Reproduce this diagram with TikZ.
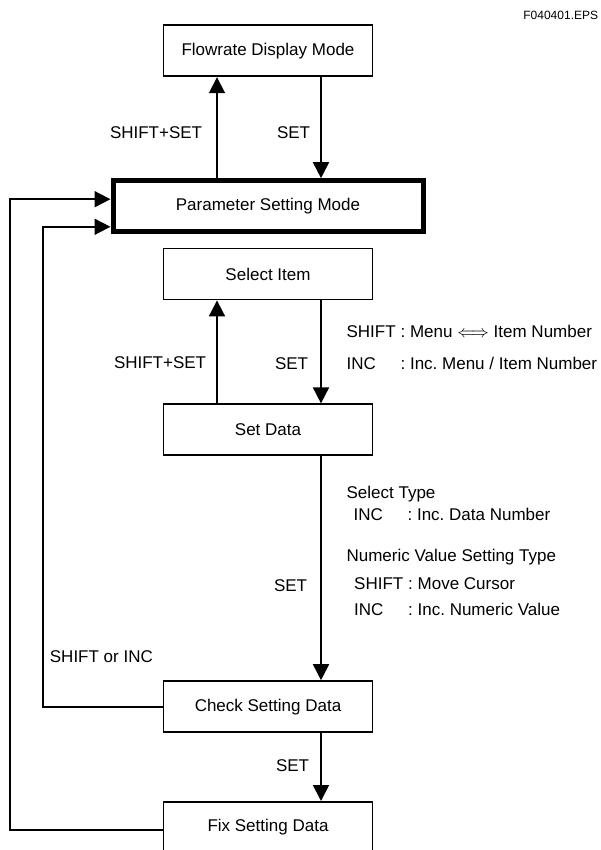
\documentclass[tikz,border=0pt]{standalone}
\usepackage{fontspec}
\setmainfont{Liberation Sans}
\usepackage{tikz}
\usetikzlibrary{arrows.meta, positioning}
\newcommand{\keyname}[1]{\makebox[54pt][l]{#1}}
\frenchspacing

\begin{document}
\begin{tikzpicture}[
                x=1pt, y=-1pt,
                line width=1.8pt,
                font=\fontsize{17}{20}\selectfont,
                modebox/.style={rectangle, draw, line width=1.8pt, minimum width=209pt, minimum height=51pt},
                lbl/.style={inner sep=0pt, text height=12.2pt, text depth=0pt},
                >={Triangle[length=16pt, width=16pt]}
            ]
            \useasboundingbox (0,0) rectangle (601,850);
            \node[lbl, font=\fontsize{12}{14}\selectfont, text height=8.6pt, anchor=east] (eps) at (599,15) {F040401.EPS};
            % mode boxes
            \node[modebox] (flow) at (268,50.8) {Flowrate Display Mode};
            \node[modebox, line width=5pt, minimum width=310pt, below=101pt of flow] (param) {Parameter Setting Mode};
            \node[modebox, below=13.4pt of param] (select) {Select Item};
            \node[modebox, below=103pt of select] (setdata) {Set Data};
            \node[modebox, below=224pt of setdata] (check) {Check Setting Data};
            \node[modebox, below=68pt of check] (fix) {Fix Setting Data};
            % transitions
            \draw[->] ([xshift=-51pt]param.north) -- node[lbl, left=14pt, pos=.45] (lshiftset) {SHIFT+SET} ([xshift=-51pt]flow.south);
            \draw[->] ([xshift=53pt]flow.south) -- node[lbl, left=10pt, pos=.55] (lsetparam) {SET} ([xshift=53pt]param.north);
            \draw[->] ([xshift=-51pt]setdata.north) -- node[lbl, left=10pt, pos=.40] (lshiftsel) {SHIFT+SET} ([xshift=-51pt]select.south);
            \draw[->] ([xshift=53pt]select.south) -- node[lbl, left=12pt, pos=.61] (lsetdata) {SET} ([xshift=53pt]setdata.north);
            \draw[->] ([xshift=53pt]setdata.south) -- node[lbl, left=13pt, pos=.576] (lsetcheck) {SET} ([xshift=53pt]check.north);
            \draw[->] ([xshift=53pt]check.south) -- node[lbl, left=11pt, pos=.48] (lsetfix) {SET} ([xshift=53pt]fix.north);
            % return paths
            \draw[->] ([yshift=-2.5pt]fix.west) -- ++(-153,0) |- ([yshift=7pt]param.west);
            \draw[->] (check.west) -- ++(-119.5,0) |- ([yshift=-20.6pt]param.west);
            \node[lbl, anchor=west] (lshiftinc) at (49,656.7) {SHIFT or INC};
            % key notes
            \node[lbl, anchor=west] (nmenu) at (345.7,331.7) {\keyname{SHIFT}: Menu $\Longleftrightarrow$ Item Number};
            \node[lbl, anchor=west] (nincmenu) at (345.7,363.3) {\keyname{INC}: Inc. Menu / Item Number};
            \node[lbl, anchor=west] (nseltype) at (345.7,492.7) {Select Type};
            \node[lbl, anchor=west] (nincdata) at (352.7,514) {\keyname{INC}: Inc. Data Number};
            \node[lbl, anchor=west] (nnumtype) at (345.7,555) {Numeric Value Setting Type};
            \node[lbl, anchor=west] (nshift) at (353.3,583.3) {\keyname{SHIFT}: Move Cursor};
            \node[lbl, anchor=west] (nincnum) at (353.3,609.3) {\keyname{INC}: Inc. Numeric Value};
        \end{tikzpicture}
\end{document}
